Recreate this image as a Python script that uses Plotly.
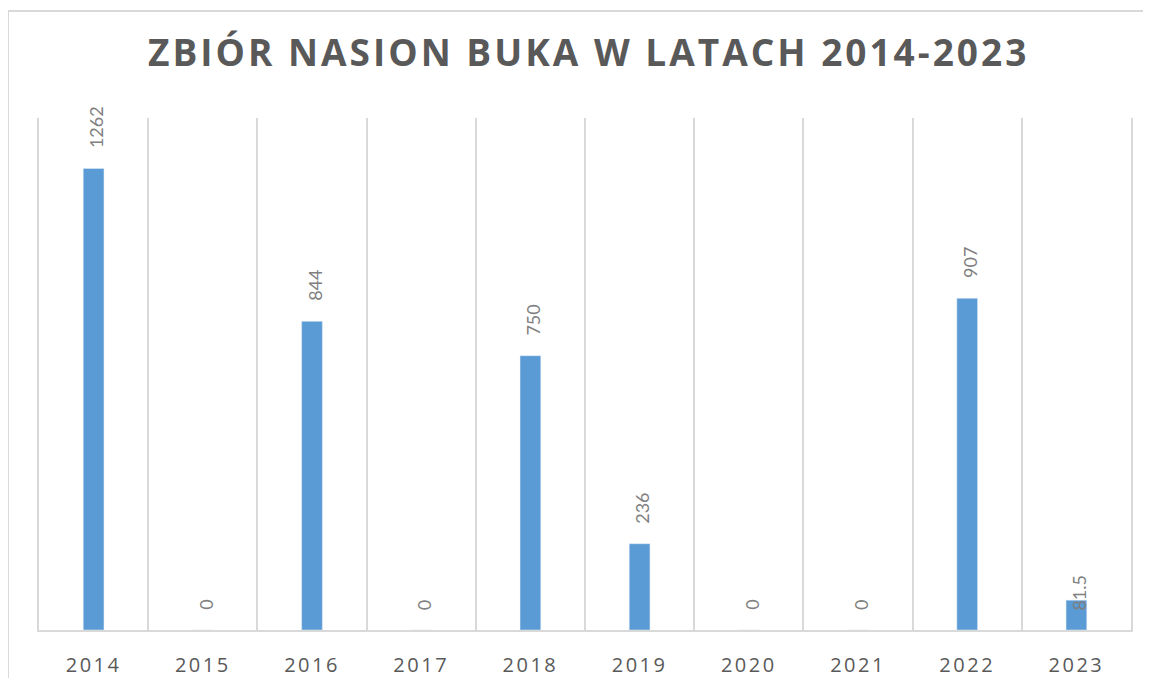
import plotly.graph_objects as go

years = ["2014", "2015", "2016", "2017", "2018", "2019", "2020", "2021", "2022", "2023"]
values = [1262, 0, 844, 0, 750, 236, 0, 0, 907, 81.5]
labels = ["1262", "0", "844", "0", "750", "236", "0", "0", "907", "81.5"]
title_text = "ZBIÓR NASION BUKA W LATACH 2014-2023"

grid_col = "#D9D9D9"

fig = go.Figure()
fig.add_trace(go.Bar(
    x=years, y=values, marker_color="#5B9BD5", width=0.19,
    hoverinfo="x+y", showlegend=False,
))

for i, (v, lab) in enumerate(zip(values, labels)):
    # the small 2023 label sits like the zero labels in the original
    shift = 18 if v == 0 or v > 100 else -12
    fig.add_annotation(
        x=i, y=v, text=lab, textangle=-90, showarrow=False,
        xanchor="center", yanchor="bottom", yshift=shift, xshift=3,
        font=dict(family="Lato", size=18, color="#7F7F7F"),
    )

# outer chart border (top and left edges visible); page body adds 8px offset
fig.add_shape(type="line", xref="paper", yref="paper",
              x0=-0.0284, x1=1.1, y0=1.209, y1=1.209,
              line=dict(color=grid_col, width=2))
fig.add_shape(type="line", xref="paper", yref="paper",
              x0=-0.0284, x1=-0.0284, y0=-0.2, y1=1.209,
              line=dict(color=grid_col, width=2))

tick_text = ['<span style="letter-spacing:2.5px">' + y + '</span>' for y in years]

fig.update_layout(
    width=1143, height=670,
    margin=dict(l=31, r=20, t=110, b=48, autoexpand=False),
    paper_bgcolor="white", plot_bgcolor="white",
    title=dict(text='<b><span style="letter-spacing:3px">' + title_text + '</span></b>',
               x=0.508, xanchor="center",
               y=1 - 45 / 670, yanchor="middle", yref="container",
               font=dict(family="Open Sans", size=37, color="#595959")),
    xaxis=dict(type="category", tickson="boundaries", showgrid=True,
               gridcolor=grid_col, gridwidth=2, showline=True,
               linecolor=grid_col, linewidth=2, ticks="",
               range=[-0.5, 9.5], ticklabelstandoff=16, automargin=False,
               tickvals=years, ticktext=tick_text,
               tickfont=dict(family="Open Sans", size=20, color="#595959")),
    yaxis=dict(range=[0, 1400], showgrid=False, showticklabels=False,
               zeroline=False, showline=True, mirror=True, automargin=False,
               linecolor=grid_col, linewidth=2, ticks=""),
    bargap=0.81,
)

fig.write_html("out.html")
